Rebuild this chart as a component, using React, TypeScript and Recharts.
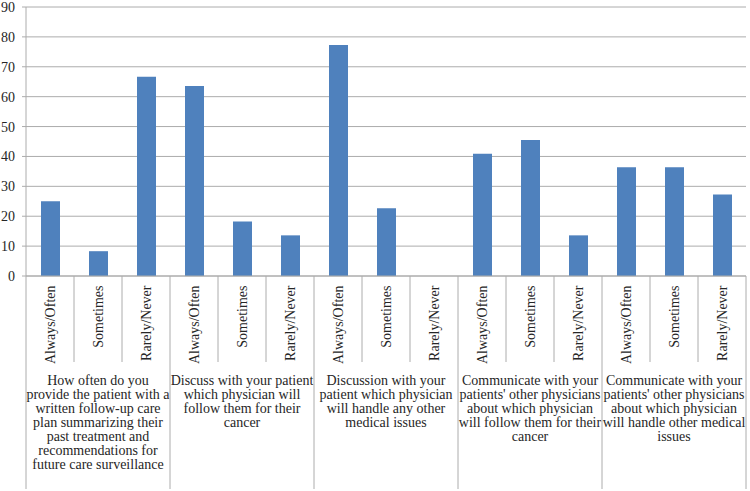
import React from 'react';
import { BarChart, Bar, XAxis, YAxis, CartesianGrid } from 'recharts';

const categories = [
  'Always/Often', 'Sometimes', 'Rarely/Never',
  'Always/Often', 'Sometimes', 'Rarely/Never',
  'Always/Often', 'Sometimes', 'Rarely/Never',
  'Always/Often', 'Sometimes', 'Rarely/Never',
  'Always/Often', 'Sometimes', 'Rarely/Never',
];

const values = [25, 8.3, 66.7, 63.6, 18.2, 13.6, 77.3, 22.7, 0, 40.9, 45.5, 13.6, 36.4, 36.4, 27.3];

const groupLabels = [
  ['How often do you', 'provide the patient with a', 'written follow-up care', 'plan summarizing their', 'past treatment and', 'recommendations for', 'future care surveillance'],
  ['Discuss with your patient', 'which physician will', 'follow them for their', 'cancer'],
  ['Discussion with your', 'patient which physician', 'will handle any other', 'medical issues'],
  ['Communicate with your', "patients' other physicians", 'about which physician', 'will follow them for their', 'cancer'],
  ['Communicate with your', "patients' other physicians", 'about which physician', 'will handle other medical', 'issues'],
];

const yTicks = [0, 10, 20, 30, 40, 50, 60, 70, 80, 90];

const data = categories.map((name, i) => ({ idx: i, name, value: values[i] }));

const W = 750;
const H = 491;
const MARGIN = { top: 7, right: 4, left: 0, bottom: 0 };
const Y_W = 26;
const X_H = 215;
const PLOT_W = W - MARGIN.left - MARGIN.right - Y_W;
const FONT = "'Liberation Serif', 'DejaVu Serif', serif";
const TEXT = '#262626';
const LINE = '#acacac';
const PER_GROUP = 3;

function CategoryTick(props: any) {
  const { x, y, index } = props;
  const band = PLOT_W / categories.length;
  const left = x - band / 2;
  const right = x + band / 2;
  const groupStart = index % PER_GROUP === 0;
  const shortLen = 86;
  const longLen = 213;
  const els: any[] = [];
  els.push(
    <line key="l" x1={left} x2={left} y1={y} y2={y + (groupStart ? longLen : shortLen)} stroke={LINE} strokeWidth={1} />
  );
  if (index === categories.length - 1) {
    els.push(<line key="r" x1={right} x2={right} y1={y} y2={y + longLen} stroke={LINE} strokeWidth={1} />);
  }
  els.push(
    <text
      key="t"
      transform={`translate(${x + 4.5},${y + 9.5}) rotate(-90)`}
      textAnchor="end"
      style={{ fontFamily: FONT, fontSize: 14 }}
      fill={TEXT}
    >
      {categories[index]}
    </text>
  );
  if (index % PER_GROUP === 1) {
    const g = Math.floor(index / PER_GROUP);
    els.push(
      <text key="g" textAnchor="middle" style={{ fontFamily: FONT, fontSize: 14 }} fill={TEXT}>
        {groupLabels[g].map((ln, i) => (
          <tspan key={i} x={x} y={y + 109 + i * 14}>{ln}</tspan>
        ))}
      </text>
    );
  }
  return <g>{els}</g>;
}

export default function App() {
  return (
    <div style={{ position: 'absolute', left: 0, top: 0, width: W, height: H, background: '#fff', fontFamily: FONT }}>
      <BarChart width={W} height={H} data={data} margin={MARGIN} barSize={19} style={{ fontFamily: FONT }}>
        <CartesianGrid horizontal={true} vertical={false} stroke={LINE} strokeWidth={1} />
        <XAxis
          dataKey="idx"
          type="category"
          height={X_H}
          interval={0}
          tickSize={0}
          tickMargin={0}
          tickLine={false}
          axisLine={{ stroke: LINE }}
          tick={<CategoryTick />}
        />
        <YAxis
          width={Y_W}
          domain={[0, 90]}
          ticks={yTicks}
          interval={0}
          tickSize={4}
          tickMargin={7}
          axisLine={{ stroke: LINE }}
          tickLine={{ stroke: LINE }}
          tick={{ style: { fontFamily: FONT, fontSize: 14 }, fill: TEXT }}
        />
        <Bar dataKey="value" fill="#4F81BD" isAnimationActive={false} />
      </BarChart>
    </div>
  );
}
